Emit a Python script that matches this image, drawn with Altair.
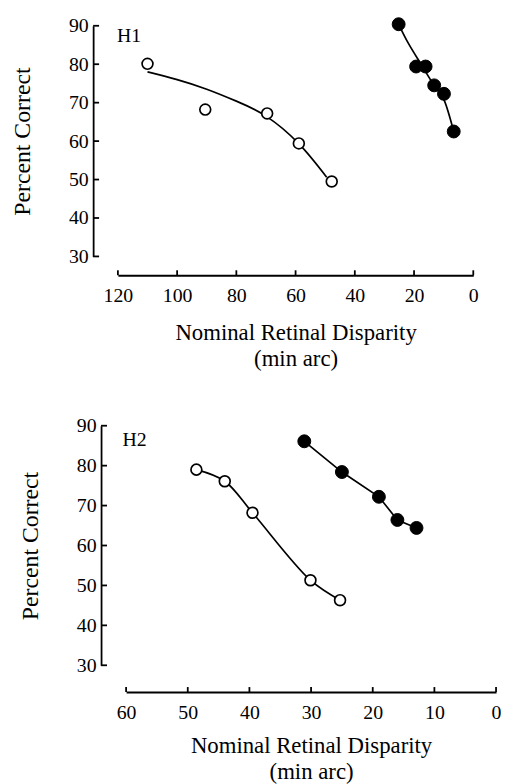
import altair as alt
import pandas as pd

# ---- data ----
h1_open_x = [110.0, 90.5, 69.6, 58.9, 47.8]
h1_open_y = [80.1, 68.2, 67.2, 59.4, 49.5]
h1_open_fit_x = [110.0, 100.0, 90.0, 80.0, 70.0, 59.0, 49.5]
h1_open_fit_y = [78.0, 76.0, 73.5, 70.4, 66.5, 59.4, 50.6]
h1_filled_x = [25.2, 19.3, 16.1, 13.2, 9.9, 6.6]
h1_filled_y = [90.4, 79.4, 79.4, 74.5, 72.3, 62.5]
h1_filled_fit_x = [25.2, 21.9, 18.2, 15.2, 12.5, 9.7, 6.6]
h1_filled_fit_y = [90.4, 85.4, 80.7, 76.9, 73.7, 70.4, 62.5]

h2_open_x = [48.6, 44.0, 39.5, 30.1, 25.3]
h2_open_y = [79.0, 76.1, 68.2, 51.3, 46.3]
h2_filled_x = [31.1, 25.0, 19.0, 16.0, 12.9]
h2_filled_y = [86.1, 78.4, 72.2, 66.4, 64.4]

h1_xticks = [0, 20, 40, 60, 80, 100, 120]
h2_xticks = [0, 10, 20, 30, 40, 50, 60]
yticks = [30, 40, 50, 60, 70, 80, 90]

FONT = "Liberation Serif"
X_TITLE = ["Nominal Retinal Disparity", "(min arc)"]


def panel(open_x, open_y, open_fit_x, open_fit_y, open_interp,
          filled_x, filled_y, filled_fit_x, filled_fit_y, filled_interp,
          xdomain, xrange, xticks, width, height, yoff, xoff, xtitlepad,
          label, label_x, label_y):
    xs = alt.Scale(domain=xdomain, range=xrange, nice=False, zero=False)
    ys = alt.Scale(domain=[30, 90], nice=False, zero=False)
    common = dict(tickSize=0, domainColor="black", domainWidth=1.8, grid=False,
                  labelFlush=False, labelOverlap=False, tickCount=20,
                  labelFont=FONT, titleFont=FONT, labelFontSize=20,
                  labelColor="black", titleColor="black", titleFontWeight="normal")
    xaxis = alt.Axis(values=xticks, title=X_TITLE, offset=xoff,
                     labelPadding=11, titlePadding=xtitlepad, titleFontSize=23,
                     titleLineHeight=26, **common)
    yaxis = alt.Axis(values=yticks, title="Percent Correct", offset=yoff,
                     labelPadding=5, titlePadding=34, titleFontSize=24, **common)

    def X(f):
        return alt.X(f, scale=xs, axis=xaxis)

    def Y(f):
        return alt.Y(f, scale=ys, axis=yaxis)

    d_open = pd.DataFrame({"x": open_x, "y": open_y})
    d_open_fit = pd.DataFrame({"x": open_fit_x, "y": open_fit_y})
    d_filled = pd.DataFrame({"x": filled_x, "y": filled_y})
    d_filled_fit = pd.DataFrame({"x": filled_fit_x, "y": filled_fit_y})

    base_line = dict(color="black", strokeWidth=1.7)
    l1 = alt.Chart(d_open_fit).mark_line(interpolate=open_interp, **base_line).encode(
        x=X("x:Q"), y=Y("y:Q"), order=alt.Order("x:Q", sort="descending"),
    )
    l2 = alt.Chart(d_filled_fit).mark_line(interpolate=filled_interp, **base_line).encode(
        x=X("x:Q"), y=Y("y:Q"), order=alt.Order("x:Q", sort="descending"),
    )
    p_open = alt.Chart(d_open).mark_point(
        shape="circle", filled=True, fill="white", stroke="black",
        strokeWidth=1.7, size=120, opacity=1).encode(x=X("x:Q"), y=Y("y:Q"))
    p_filled = alt.Chart(d_filled).mark_point(
        shape="circle", filled=True, fill="black", stroke="black",
        strokeWidth=1, size=170, opacity=1).encode(x=X("x:Q"), y=Y("y:Q"))

    xt = alt.Chart(pd.DataFrame({"x": xticks})).mark_rule(color="black", strokeWidth=1.8).encode(
        x=X("x:Q"), y=alt.value(height + xoff), y2=alt.value(height + xoff - 5))
    yt = alt.Chart(pd.DataFrame({"y": yticks})).mark_rule(color="black", strokeWidth=1.8).encode(
        y=Y("y:Q"), x=alt.value(-yoff), x2=alt.value(-yoff + 6))

    txt = alt.Chart().mark_text(text=label, font=FONT, fontSize=20, align="left",
                                baseline="middle", color="black").encode(
        x=alt.datum(label_x), y=alt.datum(label_y))

    return alt.layer(l1, l2, p_open, p_filled, xt, yt, txt).properties(width=width, height=height)


top = panel(h1_open_x, h1_open_y, h1_open_fit_x, h1_open_fit_y, "natural",
            h1_filled_x, h1_filled_y, h1_filled_fit_x, h1_filled_fit_y, "natural",
            [120, 0], [0, 359], h1_xticks, 359, 233, 25, 19, 16, "H1", 120.3, 87.2)

bottom = panel(h2_open_x, h2_open_y, h2_open_x, h2_open_y, "catmull-rom",
               h2_filled_x, h2_filled_y, h2_filled_x, h2_filled_y, "linear",
               [60, 0], [8.3, 382], h2_xticks, 382, 242, 17, 27, 12, "H2", 60.6, 86.5)

chart = alt.vconcat(top, bottom, spacing=46).properties(
    padding={"left": 3, "top": 3, "right": 0, "bottom": 0}
).configure(
    font=FONT,
).configure_axis(
    labelFont=FONT, titleFont=FONT, labelOverlap=False,
).configure_text(font=FONT).configure_view(stroke=None)

chart.save("out.html", embed_options={"renderer": "svg", "actions": False})
